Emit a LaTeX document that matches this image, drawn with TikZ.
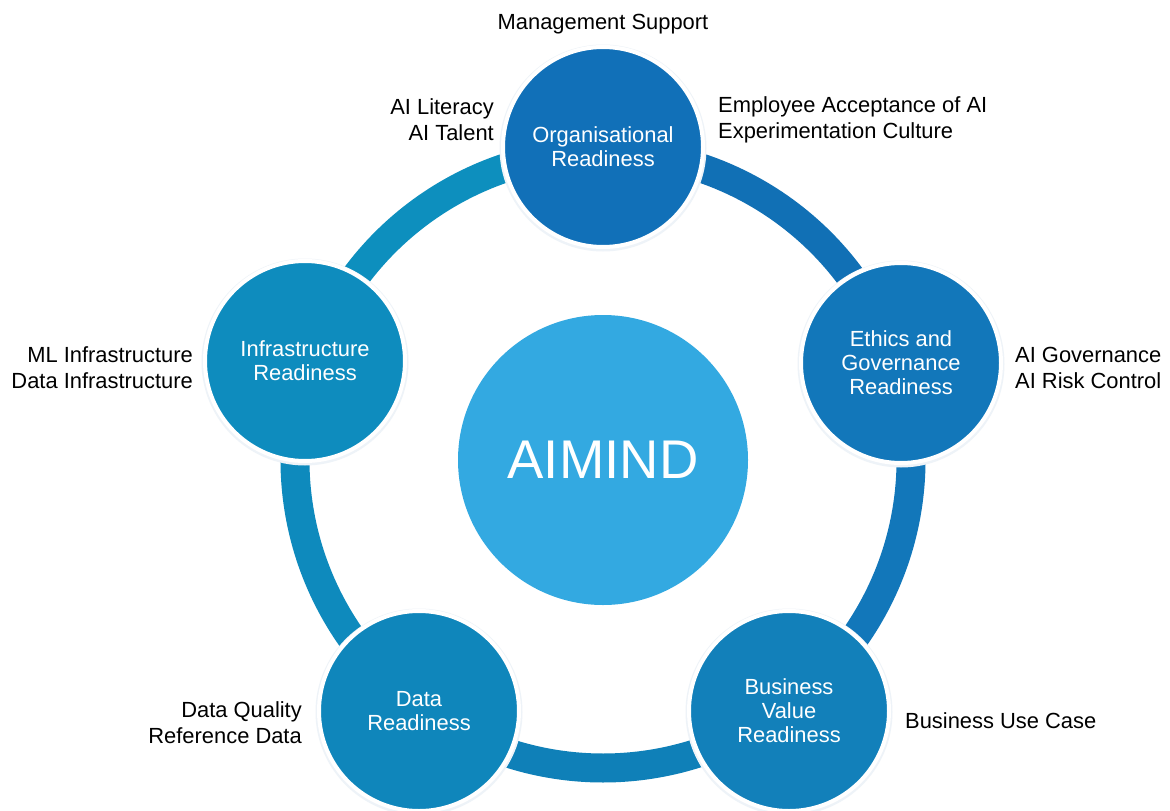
\documentclass[tikz,border=0pt]{standalone}
\usepackage{fontspec}
\setmainfont{Liberation Sans}
\begin{document}
\begin{tikzpicture}[x=1pt,y=-1pt,
  lbl/.style={inner sep=0pt,font=\fontsize{21.9}{26}\selectfont,text=black},
  pillar/.style={circle,minimum size=200pt,inner sep=0pt,draw=white,line width=4pt,text=white,align=center,font=\fontsize{21.9}{24}\selectfont},
  halo/.style={circle,minimum size=207pt,inner sep=0pt,fill=haloc},
  seg/.style={line width=29pt}
]
\definecolor{haloc}{HTML}{EEF3F8}
\definecolor{corg}{HTML}{1170B8}
\definecolor{ceth}{HTML}{1277BA}
\definecolor{cbus}{HTML}{1280BA}
\definecolor{cdat}{HTML}{0F86BB}
\definecolor{cinf}{HTML}{0E8CBE}
\definecolor{ccen}{HTML}{33A9E1}
\definecolor{s1}{HTML}{1170B5}
\definecolor{s2}{HTML}{1277BA}
\definecolor{s3}{HTML}{0F80B8}
\definecolor{s4}{HTML}{0E8ABD}
\definecolor{s5}{HTML}{0D8FBE}
\useasboundingbox (0,0) rectangle (1170,811);
\fill[white] (0,0) rectangle (1170,811);
\coordinate (C) at (603,460);
% ring segments
\draw[seg,s1] ([shift={(-90:308)}]C) arc[start angle=-90,end angle=-18,radius=308];
\draw[seg,s2] ([shift={(-18:308)}]C) arc[start angle=-18,end angle=54,radius=308];
\draw[seg,s3] ([shift={(54:308)}]C) arc[start angle=54,end angle=126,radius=308];
\draw[seg,s4] ([shift={(126:308)}]C) arc[start angle=126,end angle=198,radius=308];
\draw[seg,s5] ([shift={(198:308)}]C) arc[start angle=198,end angle=270,radius=308];
% halos
\node[halo] at (603,148) {};
\node[halo] at (901,364) {};
\node[halo] at (789,712) {};
\node[halo] at (419,712) {};
\node[halo] at (305,362) {};
% pillars
\node[pillar,fill=corg] (org) at (603,147) {Organisational\\Readiness};
\node[pillar,fill=ceth] (eth) at (901,363) {Ethics and\\Governance\\Readiness};
\node[pillar,fill=cbus] (bus) at (789,711) {Business\\Value\\Readiness};
\node[pillar,fill=cdat] (dat) at (419,711) {Data\\Readiness};
\node[pillar,fill=cinf] (inf) at (305,361) {Infrastructure\\Readiness};
% centre
\node[circle,minimum size=290pt,inner sep=0pt,fill=ccen,text=white,font=\fontsize{54.5}{60}\selectfont] (aim) at (C) {AIMIND};
% labels
\node[lbl] (l1) at (603,24) {Management Support};
\node[lbl,anchor=east,align=right] (l2) at (494,120) {AI Literacy\\AI Talent};
\node[lbl,anchor=west,align=left] (l3) at (718,120) {Employee Acceptance of AI\\Experimentation Culture};
\node[lbl,anchor=east,align=right] (l4) at (193,368) {ML Infrastructure\\Data Infrastructure};
\node[lbl,anchor=west,align=left] (l5) at (1015,368) {AI Governance\\AI Risk Control};
\node[lbl,anchor=east,align=right] (l6) at (302,723) {Data Quality\\Reference Data};
\node[lbl,anchor=west] (l7) at (905,721) {Business Use Case};
\end{tikzpicture}
\end{document}
